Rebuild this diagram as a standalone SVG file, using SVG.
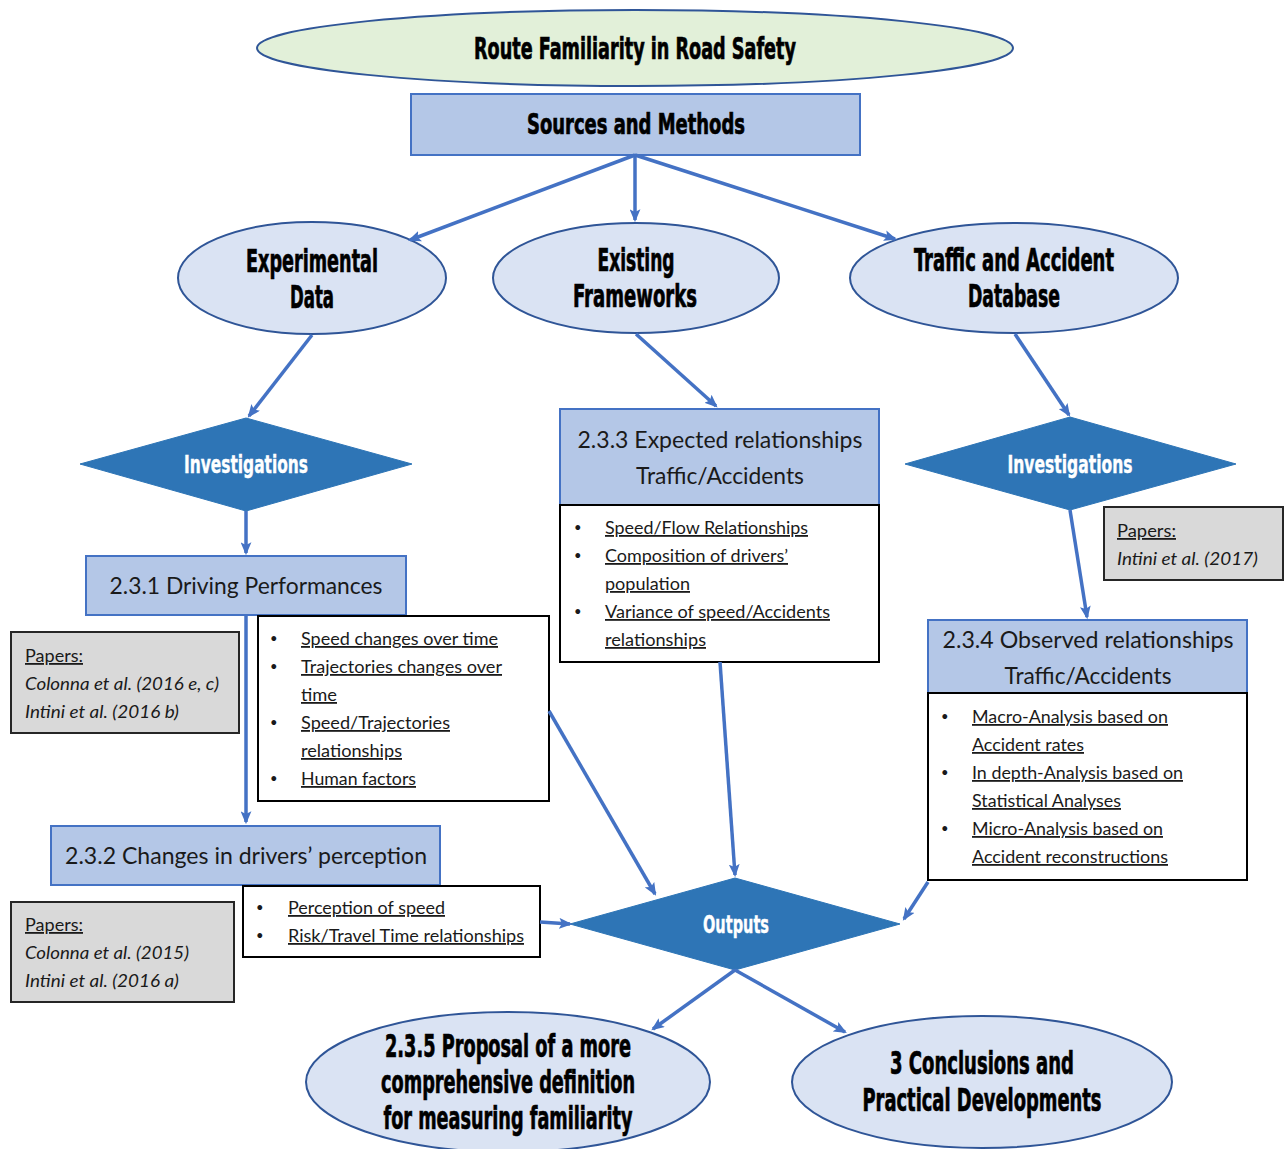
<svg xmlns="http://www.w3.org/2000/svg" width="1287" height="1149" viewBox="0 0 1287 1149">
<style>
.bg{fill:#ffffff}
.ell{fill:#dae3f3;stroke:#2f5597;stroke-width:2}
.top{fill:#e2f0d9;stroke:#2f5597;stroke-width:2}
.hdr{fill:#b4c7e7;stroke:#4472c4;stroke-width:2}
.dia{fill:#2e75b6;stroke:#2e75b6;stroke-width:1}
.wbox{fill:#ffffff;stroke:#000000;stroke-width:2}
.pbox{fill:#d9d9d9;stroke:#262626;stroke-width:2}
.bold{font-family:"Liberation Sans Narrow","DejaVu Sans Condensed","Roboto Condensed","Liberation Sans",sans-serif;font-weight:bold;fill:#000;stroke:#000;stroke-width:0.7;text-anchor:middle}
.wt{fill:#ffffff;stroke:#ffffff;stroke-width:0.4}
.cal{font-family:Lato,"Open Sans","Liberation Sans",sans-serif;fill:#1a1a1a}
.h24{font-size:24px;text-anchor:middle}
.li{font-size:18px;text-decoration:underline}
.bu{font-size:13px}
.it{font-style:italic;font-size:18px}
.conn line{stroke:#4472c4;stroke-width:3.5;fill:none;marker-end:url(#ah)}
</style>
<defs>
<marker id="ah" viewBox="0 0 12 10" refX="10" refY="5" markerWidth="13" markerHeight="11" markerUnits="userSpaceOnUse" orient="auto">
<path d="M0,0 L12,5 L0,10 L2.5,5 z" fill="#4472c4"/>
</marker>
</defs>
<rect class="bg" x="0" y="0" width="1287" height="1149"/>

<g id="title">
<ellipse class="top" cx="635" cy="48" rx="378" ry="38"/>
<text class="bold" x="635" y="59" font-size="30" textLength="322" lengthAdjust="spacingAndGlyphs">Route Familiarity in Road Safety</text>
</g>

<g id="sources">
<rect class="hdr" x="411" y="94" width="449" height="61"/>
<text class="bold" x="636" y="134" font-size="28" textLength="218" lengthAdjust="spacingAndGlyphs">Sources and Methods</text>
</g>

<g id="experimental">
<ellipse class="ell" cx="312" cy="278" rx="134" ry="56"/>
<text class="bold" x="312" y="272" font-size="32" textLength="132" lengthAdjust="spacingAndGlyphs">Experimental</text>
<text class="bold" x="312" y="308" font-size="32" textLength="44" lengthAdjust="spacingAndGlyphs">Data</text>
</g>

<g id="existing">
<ellipse class="ell" cx="636" cy="278" rx="143" ry="55"/>
<text class="bold" x="636" y="271" font-size="32" textLength="77" lengthAdjust="spacingAndGlyphs">Existing</text>
<text class="bold" x="635" y="307" font-size="32" textLength="124" lengthAdjust="spacingAndGlyphs">Frameworks</text>
</g>

<g id="traffic">
<ellipse class="ell" cx="1014" cy="278" rx="164" ry="55"/>
<text class="bold" x="1014" y="271" font-size="32" textLength="200" lengthAdjust="spacingAndGlyphs">Traffic and Accident</text>
<text class="bold" x="1014" y="307" font-size="32" textLength="92" lengthAdjust="spacingAndGlyphs">Database</text>
</g>

<g id="investigations-left">
<polygon class="dia" points="80,464 246,418 412,464 246,511"/>
<text class="bold wt" x="246" y="473" font-size="25" textLength="124" lengthAdjust="spacingAndGlyphs">Investigations</text>
</g>

<g id="investigations-right">
<polygon class="dia" points="905,464 1070,417 1236,464 1070,510"/>
<text class="bold wt" x="1070" y="473" font-size="25" textLength="125" lengthAdjust="spacingAndGlyphs">Investigations</text>
</g>

<g id="driving">
<rect class="hdr" x="86" y="556" width="320" height="59"/>
<text class="cal h24" x="246" y="594" textLength="273" lengthAdjust="spacingAndGlyphs">2.3.1 Driving Performances</text>
</g>

<g id="papers1">
<rect class="pbox" x="11" y="632" width="228" height="101"/>
<text class="cal li" x="25" y="662" textLength="58" lengthAdjust="spacingAndGlyphs">Papers:</text>
<text class="cal it" x="25" y="690" textLength="194" lengthAdjust="spacingAndGlyphs">Colonna et al. (2016 e, c)</text>
<text class="cal it" x="25" y="718" textLength="154" lengthAdjust="spacingAndGlyphs">Intini et al. (2016 b)</text>
</g>

<g id="driving-items">
<rect class="wbox" x="258" y="616" width="291" height="185"/>
<text class="cal bu" x="270" y="643">•</text>
<text class="cal li" x="301" y="645" textLength="197" lengthAdjust="spacingAndGlyphs">Speed changes over time</text>
<text class="cal bu" x="270" y="671">•</text>
<text class="cal li" x="301" y="673" textLength="201" lengthAdjust="spacingAndGlyphs">Trajectories changes over</text>
<text class="cal li" x="301" y="701" textLength="36" lengthAdjust="spacingAndGlyphs">time</text>
<text class="cal bu" x="270" y="727">•</text>
<text class="cal li" x="301" y="729" textLength="149" lengthAdjust="spacingAndGlyphs">Speed/Trajectories</text>
<text class="cal li" x="301" y="757" textLength="101" lengthAdjust="spacingAndGlyphs">relationships</text>
<text class="cal bu" x="270" y="783">•</text>
<text class="cal li" x="301" y="785" textLength="115" lengthAdjust="spacingAndGlyphs">Human factors</text>
</g>

<g id="perception">
<rect class="hdr" x="51" y="826" width="389" height="59"/>
<text class="cal h24" x="246" y="864" textLength="362" lengthAdjust="spacingAndGlyphs">2.3.2 Changes in drivers’ perception</text>
</g>

<g id="perception-items">
<rect class="wbox" x="243" y="886" width="297" height="71"/>
<text class="cal bu" x="256" y="912">•</text>
<text class="cal li" x="288" y="914" textLength="157" lengthAdjust="spacingAndGlyphs">Perception of speed</text>
<text class="cal bu" x="256" y="940">•</text>
<text class="cal li" x="288" y="942" textLength="236" lengthAdjust="spacingAndGlyphs">Risk/Travel Time relationships</text>
</g>

<g id="papers2">
<rect class="pbox" x="11" y="902" width="223" height="100"/>
<text class="cal li" x="25" y="931" textLength="58" lengthAdjust="spacingAndGlyphs">Papers:</text>
<text class="cal it" x="25" y="959" textLength="164" lengthAdjust="spacingAndGlyphs">Colonna et al. (2015)</text>
<text class="cal it" x="25" y="987" textLength="154" lengthAdjust="spacingAndGlyphs">Intini et al. (2016 a)</text>
</g>

<g id="expected">
<rect class="hdr" x="560" y="409" width="319" height="96"/>
<text class="cal h24" x="720" y="448" textLength="285" lengthAdjust="spacingAndGlyphs">2.3.3 Expected relationships</text>
<text class="cal h24" x="720" y="484" textLength="168" lengthAdjust="spacingAndGlyphs">Traffic/Accidents</text>
</g>

<g id="expected-items">
<rect class="wbox" x="560" y="505" width="319" height="157"/>
<text class="cal bu" x="574" y="532">•</text>
<text class="cal li" x="605" y="534" textLength="203" lengthAdjust="spacingAndGlyphs">Speed/Flow Relationships</text>
<text class="cal bu" x="574" y="560">•</text>
<text class="cal li" x="605" y="562" textLength="183" lengthAdjust="spacingAndGlyphs">Composition of drivers’</text>
<text class="cal li" x="605" y="590" textLength="85" lengthAdjust="spacingAndGlyphs">population</text>
<text class="cal bu" x="574" y="616">•</text>
<text class="cal li" x="605" y="618" textLength="225" lengthAdjust="spacingAndGlyphs">Variance of speed/Accidents</text>
<text class="cal li" x="605" y="646" textLength="101" lengthAdjust="spacingAndGlyphs">relationships</text>
</g>

<g id="papers3">
<rect class="pbox" x="1104" y="507" width="179" height="73"/>
<text class="cal li" x="1117" y="537" textLength="59" lengthAdjust="spacingAndGlyphs">Papers:</text>
<text class="cal it" x="1117" y="565" textLength="141" lengthAdjust="spacingAndGlyphs">Intini et al. (2017)</text>
</g>

<g id="observed">
<rect class="hdr" x="928" y="620" width="319" height="73"/>
<text class="cal h24" x="1088" y="648" textLength="291" lengthAdjust="spacingAndGlyphs">2.3.4 Observed relationships</text>
<text class="cal h24" x="1088" y="684" textLength="167" lengthAdjust="spacingAndGlyphs">Traffic/Accidents</text>
</g>

<g id="observed-items">
<rect class="wbox" x="928" y="693" width="319" height="187"/>
<text class="cal bu" x="941" y="721">•</text>
<text class="cal li" x="972" y="723" textLength="196" lengthAdjust="spacingAndGlyphs">Macro-Analysis based on</text>
<text class="cal li" x="972" y="751" textLength="112" lengthAdjust="spacingAndGlyphs">Accident rates</text>
<text class="cal bu" x="941" y="777">•</text>
<text class="cal li" x="972" y="779" textLength="211" lengthAdjust="spacingAndGlyphs">In depth-Analysis based on</text>
<text class="cal li" x="972" y="807" textLength="149" lengthAdjust="spacingAndGlyphs">Statistical Analyses</text>
<text class="cal bu" x="941" y="833">•</text>
<text class="cal li" x="972" y="835" textLength="191" lengthAdjust="spacingAndGlyphs">Micro-Analysis based on</text>
<text class="cal li" x="972" y="863" textLength="196" lengthAdjust="spacingAndGlyphs">Accident reconstructions</text>
</g>

<g id="outputs">
<polygon class="dia" points="570,924 735,878 900,924 735,970"/>
<text class="bold wt" x="736" y="933" font-size="25" textLength="66" lengthAdjust="spacingAndGlyphs">Outputs</text>
</g>

<g id="proposal">
<ellipse class="ell" cx="508" cy="1082" rx="202" ry="70"/>
<text class="bold" x="508" y="1057" font-size="32" textLength="246" lengthAdjust="spacingAndGlyphs">2.3.5 Proposal of a more</text>
<text class="bold" x="508" y="1093" font-size="32" textLength="254" lengthAdjust="spacingAndGlyphs">comprehensive definition</text>
<text class="bold" x="508" y="1129" font-size="32" textLength="249" lengthAdjust="spacingAndGlyphs">for measuring familiarity</text>
</g>

<g id="conclusions">
<ellipse class="ell" cx="982" cy="1082" rx="190" ry="66"/>
<text class="bold" x="982" y="1074" font-size="32" textLength="184" lengthAdjust="spacingAndGlyphs">3 Conclusions and</text>
<text class="bold" x="982" y="1111" font-size="32" textLength="239" lengthAdjust="spacingAndGlyphs">Practical Developments</text>
</g>

<g id="connectors" class="conn">
<line x1="635" y1="155" x2="410" y2="240"/>
<line x1="635" y1="155" x2="635" y2="220"/>
<line x1="635" y1="155" x2="895" y2="239"/>
<line x1="312" y1="335" x2="249" y2="416"/>
<line x1="246" y1="511" x2="246" y2="553"/>
<line x1="246" y1="615" x2="246" y2="822"/>
<line x1="549" y1="711" x2="655" y2="894"/>
<line x1="540" y1="922" x2="570" y2="924"/>
<line x1="636" y1="334" x2="716" y2="406"/>
<line x1="720" y1="662" x2="735" y2="875"/>
<line x1="1015" y1="334" x2="1069" y2="415"/>
<line x1="1070" y1="510" x2="1087" y2="617"/>
<line x1="928" y1="882" x2="904" y2="919"/>
<line x1="735" y1="970" x2="653" y2="1029"/>
<line x1="735" y1="970" x2="845" y2="1032"/>
</g>
</svg>
